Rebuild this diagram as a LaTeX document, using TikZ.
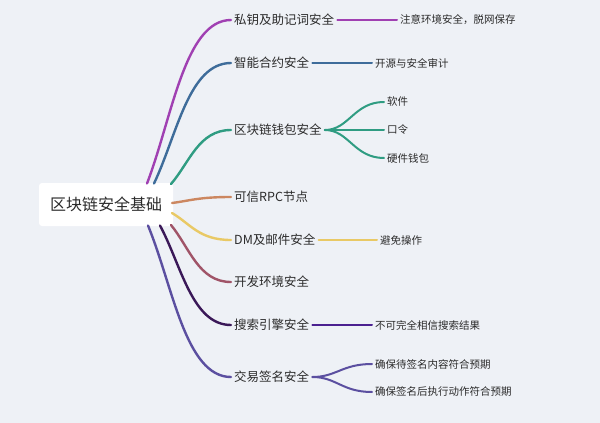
\documentclass[tikz,border=0pt]{standalone}
\usepackage{fontspec}
\setmainfont{Noto Sans CJK SC}
\usetikzlibrary{calc}
\definecolor{bg}{HTML}{EEF1F6}
\definecolor{txt}{HTML}{2B2B2B}
\definecolor{cmag}{HTML}{A040B2}
\definecolor{cblue}{HTML}{3E6C9A}
\definecolor{cteal}{HTML}{2F9C82}
\definecolor{corange}{HTML}{CC8760}
\definecolor{cyellow}{HTML}{E9C965}
\definecolor{cred}{HTML}{A05468}
\definecolor{cdpur}{HTML}{3A1858}
\definecolor{cpur}{HTML}{4B2190}
\definecolor{cviol}{HTML}{5B4FA0}
\begin{document}
\begin{tikzpicture}[x=1pt,y=-1pt,
  l1/.style={anchor=west,inner xsep=3pt,inner ysep=2pt,text=txt,font=\fontsize{12.5}{14}\selectfont},
  l2/.style={anchor=west,inner xsep=3pt,inner ysep=2pt,text=txt,font=\fontsize{10.5}{12}\selectfont},
  br/.style={line width=2.4pt,line cap=round},
  sb/.style={line width=2pt,line cap=round}]
\fill[bg] (0,0) rectangle (600,423);
\useasboundingbox (0,0) rectangle (600,423);
\node[fill=white,rounded corners=3pt,minimum width=134pt,minimum height=43pt,text=txt,font=\fontsize{16}{18}\selectfont] (root) at (106,204.5) {区块链安全基础};
% level 1
\node[l1] (a1) at (231,20) {私钥及助记词安全};
\node[l1] (a2) at (231,63) {智能合约安全};
\node[l1] (a3) at (231,130) {区块链钱包安全};
\node[l1] (a4) at (231,197) {可信RPC节点};
\node[l1] (a5) at (231,240) {DM及邮件安全};
\node[l1] (a6) at (231,282) {开发环境安全};
\node[l1] (a7) at (231,325) {搜索引擎安全};
\node[l1] (a8) at (231,377) {交易签名安全};
% start points on root
\coordinate (s1) at (147,183.5);
\coordinate (s2) at (154,183.5);
\coordinate (s3) at (171,184);
\coordinate (s4) at (172,203);
\coordinate (s5) at (172,213);
\coordinate (s6) at (171,225);
\coordinate (s7) at (160,225.5);
\coordinate (s8) at (148,225.5);
\draw[br,cmag] (s1) .. controls (172.2,117.8) and (184.8,20) .. (a1.west);
\draw[br,cblue] (s2) .. controls (177.1,135) and (188.7,63) .. (a2.west);
\draw[br,cteal] (s3) .. controls (189.7,162.4) and (198.6,130) .. (a3.west);
\draw[br,corange] (s4) .. controls (190.4,200.6) and (199.1,197) .. (a4.west);
\draw[br,cyellow] (s5) .. controls (190.4,223.8) and (199.1,240) .. (a5.west);
\draw[br,cred] (s6) .. controls (189.7,247.8) and (198.6,282) .. (a6.west);
\draw[br,cdpur] (s7) .. controls (181.3,265) and (192,325) .. (a7.west);
\draw[br,cviol] (s8) .. controls (172.9,285.8) and (185.4,377) .. (a8.west);
% level 2
\node[l2] (b1) at (397,20) {注意环境安全，脱网保存};
\node[l2] (b2) at (372,63) {开源与安全审计};
\node[l2] (c1) at (384,102) {软件};
\node[l2] (c2) at (384,130) {口令};
\node[l2] (c3) at (384,158) {硬件钱包};
\node[l2] (b5) at (377,240) {避免操作};
\node[l2] (b7) at (372,325) {不可完全相信搜索结果};
\node[l2] (d1) at (372,364) {确保待签名内容符合预期};
\node[l2] (d2) at (372,392) {确保签名后执行动作符合预期};
\draw[sb,cmag] (a1.east) -- (b1.west);
\draw[sb,cblue] (a2.east) -- (b2.west);
\draw[sb,cteal] (a3.east) .. controls +(24,0) and +(-30,0) .. (c1.west);
\draw[sb,cteal] (a3.east) -- (c2.west);
\draw[sb,cteal] (a3.east) .. controls +(24,0) and +(-30,0) .. (c3.west);
\draw[sb,cyellow] (a5.east) -- (b5.west);
\draw[sb,cpur] (a7.east) -- (b7.west);
\draw[sb,cviol] (a8.east) .. controls +(24,0) and +(-30,0) .. (d1.west);
\draw[sb,cviol] (a8.east) .. controls +(24,0) and +(-30,0) .. (d2.west);
\end{tikzpicture}
\end{document}
